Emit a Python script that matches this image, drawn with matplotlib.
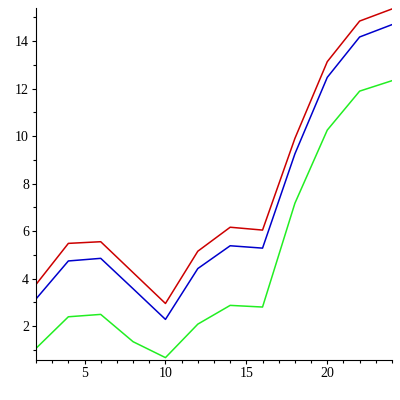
import matplotlib
matplotlib.use('Agg')
from matplotlib import pyplot as plt
from matplotlib.ticker import MultipleLocator

x = [2, 4, 6, 8, 10, 12, 14, 16, 18, 20, 22, 24]
red = [3.75, 5.48, 5.55, 4.25, 2.95, 5.15, 6.16, 6.04, 9.9, 13.13, 14.84, 15.35]
blue = [3.14, 4.74, 4.85, 3.57, 2.28, 4.42, 5.38, 5.28, 9.25, 12.47, 14.17, 14.69]
green = [1.06, 2.39, 2.49, 1.34, 0.67, 2.08, 2.87, 2.8, 7.17, 10.25, 11.89, 12.33]

plt.rcParams['font.family'] = ['Liberation Serif', 'DejaVu Serif']

fig = plt.figure(figsize=(4, 4), dpi=100)
ax = fig.add_axes([0.09, 0.1, 0.89, 0.88])

ax.plot(x, red, color='#cc0000', linewidth=1.1)
ax.plot(x, blue, color='#0000cc', linewidth=1.1)
ax.plot(x, green, color='#22ee22', linewidth=1.1)

ax.set_xlim(2, 24)
ax.set_ylim(0.57, 15.39)

ax.spines['top'].set_visible(False)
ax.spines['right'].set_visible(False)

ax.xaxis.set_major_locator(MultipleLocator(5))
ax.xaxis.set_minor_locator(MultipleLocator(1))
ax.yaxis.set_major_locator(MultipleLocator(2))
ax.yaxis.set_minor_locator(MultipleLocator(1))
ax.tick_params(which='major', length=3, width=0.8, labelsize=10, pad=2)
ax.tick_params(which='minor', length=2, width=0.8)

fig.savefig('out.png', dpi=100)
